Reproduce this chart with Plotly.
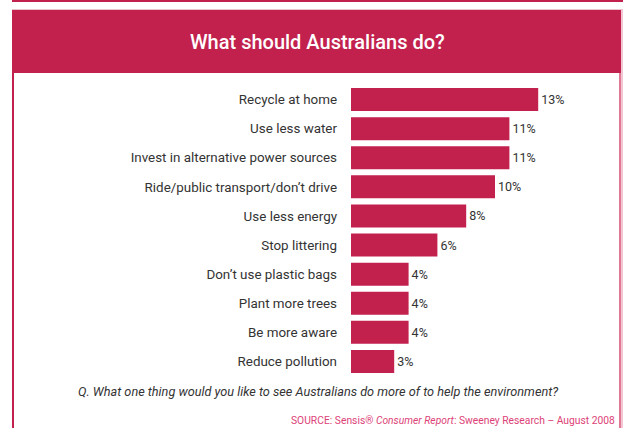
import plotly.graph_objects as go

categories = [
    "Recycle at home",
    "Use less water",
    "Invest in alternative power sources",
    "Ride/public transport/don\u2019t drive",
    "Use less energy",
    "Stop littering",
    "Don\u2019t use plastic bags",
    "Plant more trees",
    "Be more aware",
    "Reduce pollution",
]
values = [13, 11, 11, 10, 8, 6, 4, 4, 4, 3]

CRIMSON = "#C2214E"
FONT = "Roboto, 'Open Sans', sans-serif"

W, H = 623, 428
ML, MR, MT, MB = 351, 56, 85, 52

fig = go.Figure(
    go.Bar(
        x=values,
        y=categories,
        orientation="h",
        marker=dict(color=CRIMSON, line=dict(width=0)),
        width=0.79,
        text=[f"{v}%" for v in values],
        textposition="outside",
        textfont=dict(family=FONT, size=12.5, color="#333333"),
        cliponaxis=False,
        hoverinfo="skip",
    )
)

pw = W - ML - MR
ph = H - MT - MB


def px(x):
    return (x - ML) / pw


def py(y):
    return (H - MB - y) / ph


shapes = [
    dict(type="rect", xref="paper", yref="paper", x0=px(12), x1=px(623), y0=py(2), y1=py(0),
         fillcolor=CRIMSON, line=dict(width=0), layer="below"),
    dict(type="rect", xref="paper", yref="paper", x0=px(12), x1=px(623), y0=py(10), y1=py(9),
         fillcolor="#EBC3CF", line=dict(width=0), layer="below"),
    dict(type="rect", xref="paper", yref="paper", x0=px(12), x1=px(621), y0=py(73), y1=py(10),
         fillcolor=CRIMSON, line=dict(width=0), layer="below"),
    dict(type="rect", xref="paper", yref="paper", x0=px(12), x1=px(14), y0=py(428), y1=py(73),
         fillcolor=CRIMSON, line=dict(width=0), layer="below"),
    dict(type="rect", xref="paper", yref="paper", x0=px(619), x1=px(621), y0=py(428), y1=py(73),
         fillcolor="#E07896", line=dict(width=0), layer="below"),
    dict(type="rect", xref="paper", yref="paper", x0=px(621), x1=px(623), y0=py(428), y1=py(10),
         fillcolor="#F3C6D3", line=dict(width=0), layer="below"),
]

fig.update_layout(
    width=W,
    height=H,
    margin=dict(l=ML, r=MR, t=MT, b=MB),
    paper_bgcolor="white",
    plot_bgcolor="white",
    showlegend=False,
    font=dict(family=FONT, color="#333333"),
    xaxis=dict(range=[0, 15], visible=False, fixedrange=True),
    yaxis=dict(
        autorange="reversed",
        showgrid=False,
        zeroline=False,
        showline=False,
        ticks="",
        ticklabelstandoff=13,
        tickfont=dict(family=FONT, size=13.4, color="#333333"),
        fixedrange=True,
    ),
    shapes=shapes,
)

fig.add_annotation(
    xref="paper", yref="paper", x=px(317), y=py(42), xanchor="center", yanchor="middle",
    text="What should Australians do?", showarrow=False,
    font=dict(family="Roboto, sans-serif", size=20, color="white", weight=500),
)
fig.add_annotation(
    xref="paper", yref="paper", x=px(318), y=py(391), xanchor="center", yanchor="middle",
    text="<i>Q. What one thing would you like to see Australians do more of to help the environment?</i>",
    showarrow=False, font=dict(family=FONT, size=12.7, color="#333333"),
)
fig.add_annotation(
    xref="paper", yref="paper", x=px(617), y=py(421), xanchor="right", yanchor="middle",
    text="SOURCE: Sensis\u00ae <i>Consumer Report</i>: Sweeney Research \u2013 August 2008",
    showarrow=False, font=dict(family=FONT, size=10.3, color="#DD4277"),
)

fig.write_html(
    "out.html",
    config={"displayModeBar": False},
    post_script="document.body.style.margin='0';document.body.style.overflow='hidden';",
)
